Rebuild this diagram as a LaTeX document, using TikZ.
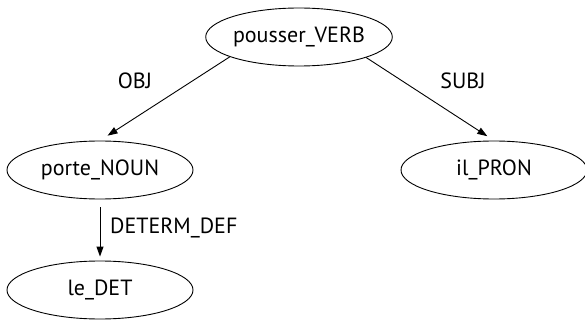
\documentclass[tikz,border=0pt]{standalone}
\usepackage{fontspec}
\setmainfont{PT Sans}
\usetikzlibrary{shapes.geometric,arrows.meta}

\begin{document}
\begin{tikzpicture}[x=1pt,y=-1pt,
    word/.style={draw=black,line width=0.9pt,ellipse,inner sep=0pt,minimum width=186pt,minimum height=58pt,font=\fontsize{22}{26}\selectfont},
    rel/.style={inner sep=0pt,font=\fontsize{22}{26}\selectfont},
    dep/.style={line width=0.9pt,-{Triangle[length=10pt,width=7pt]}}]
            \useasboundingbox (0,0) rectangle (585,320);
            \node[word] (verb) at (299,37) {pousser\_VERB};
            \node[word] (noun) at (100,170) {porte\_NOUN};
            \node[word] (pron) at (494,170) {il\_PRON};
            \node[word] (det) at (100,290) {le\_DET};

            \node[rel] (obj) at (135,81) {OBJ};
            \node[rel] (subj) at (463,81) {SUBJ};
            \node[rel,anchor=west] (determ) at (110,228) {DETERM\_DEF};

            \path [dep] (verb.196) edge[shorten >=9pt] (noun.north);
            \path [dep] (verb.343) edge[shorten >=8pt] (pron.north);
            \path [dep] (noun.south) edge[shorten <=8pt,shorten >=4pt] (det.north);
        \end{tikzpicture}
\end{document}
